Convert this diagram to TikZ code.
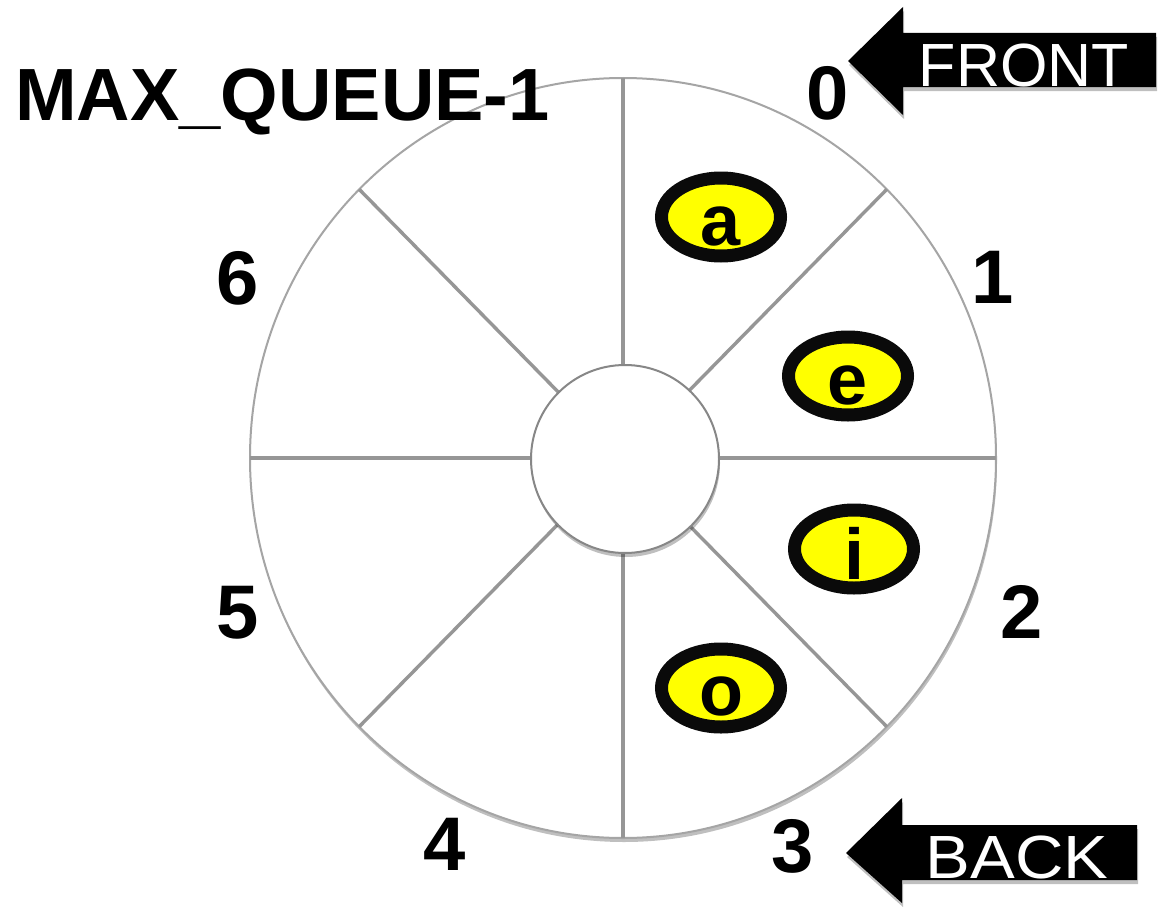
\documentclass[tikz,border=0pt]{standalone}
\usepackage{fontspec}
\setmainfont{Liberation Sans}
\usepackage{tikz}
\usetikzlibrary{shapes.geometric}
\usetikzlibrary{shadows}

\definecolor{rimgray}{RGB}{165,165,165}
\definecolor{spokegray}{RGB}{150,150,150}
\definecolor{hubgray}{RGB}{135,135,135}
\definecolor{vowelyellow}{RGB}{255,255,0}

\tikzset{
  softshadow/.style={drop shadow={shadow xshift=1pt, shadow yshift=-4pt,
      opacity=0.25, fill=black}},
  spoke/.style={draw=spokegray, line width=3.4pt},
  vowel/.style={ellipse, draw=black!96, line width=13pt, fill=vowelyellow,
    minimum width=119pt, minimum height=78pt, inner sep=0pt, softshadow},
  letter/.style={anchor=base, inner sep=0pt, font=\bfseries\fontsize{72}{72}\selectfont},
  idx/.style={anchor=base, inner sep=0pt, font=\bfseries\fontsize{76}{76}\selectfont},
  pointer/.style={fill=black, softshadow},
  ptrtext/.style={anchor=base, inner sep=0pt, text=white,
    font=\fontsize{61}{61}\selectfont}
}

\begin{document}
\begin{tikzpicture}[x=1pt, y=-1pt]
  \useasboundingbox (0,0) rectangle (1159,907);
  \fill[white] (0,0) rectangle (1159,907);

  % the ring
  \coordinate (c) at (623,458);
  \fill[white, softshadow] (c) ellipse [x radius=373, y radius=380];
  \draw[rimgray, line width=2pt] (c) ellipse [x radius=373, y radius=380];
  \coordinate (rn) at (623,78);   \coordinate (rs) at (623,838);
  \coordinate (rw) at (250,458);  \coordinate (re) at (996,458);
  \coordinate (rne) at (886.8,189.3); \coordinate (rsw) at (359.2,726.7);
  \coordinate (rnw) at (359.2,189.3); \coordinate (rse) at (886.8,726.7);
  \draw[spoke] (rn) -- (rs);
  \draw[spoke] (rw) -- (re);
  \draw[spoke] (rne) -- (rsw);
  \draw[spoke] (rnw) -- (rse);
  \node[circle, draw=hubgray, line width=2pt, fill=white, minimum size=188pt,
    inner sep=0pt, softshadow] (hub) at (625,459) {};

  % slot contents
  \node[vowel] (va) at (721,217) {};
  \node[letter] (la) at ([yshift=-28pt]va.center) {a};
  \node[vowel] (ve) at (848,376) {};
  \node[letter] (le) at ([yshift=-28pt]ve.center) {e};
  \node[vowel] (vi) at (854,549) {};
  \node[letter] (li) at ([yshift=-30pt]vi.center) {i};
  \node[vowel] (vo) at (721,688) {};
  \node[letter] (lo) at ([yshift=-27pt]vo.center) {o};

  % indices
  \node[idx, anchor=base west, font=\bfseries\fontsize{74}{74}\selectfont]
    (lmax) at (15,120) {MAX\_QUEUE-1};
  \node[idx] (l0) at (828,119) {0};
  \node[idx] (l1) at (993,303) {1};
  \node[idx] (l2) at (1022,638) {2};
  \node[idx] (l3) at (793,872) {3};
  \node[idx] (l4) at (445,870) {4};
  \node[idx] (l5) at (238,638) {5};
  \node[idx] (l6) at (238,304) {6};

  % front and back pointers
  \fill[pointer] (848,61) -- (903,7) -- (903,33) -- (1156,33) -- (1156,87)
    -- (903,87) -- (903,115) -- cycle;
  \node[ptrtext] (front) at (1024,86) {FRONT};
  \fill[pointer] (846,853) -- (902,798) -- (902,825) -- (1137,825) -- (1137,880)
    -- (902,880) -- (902,903) -- cycle;
  \node[ptrtext] (back) at (1017,878) {\scalebox{1.1}[1]{BACK}};
\end{tikzpicture}
\end{document}
